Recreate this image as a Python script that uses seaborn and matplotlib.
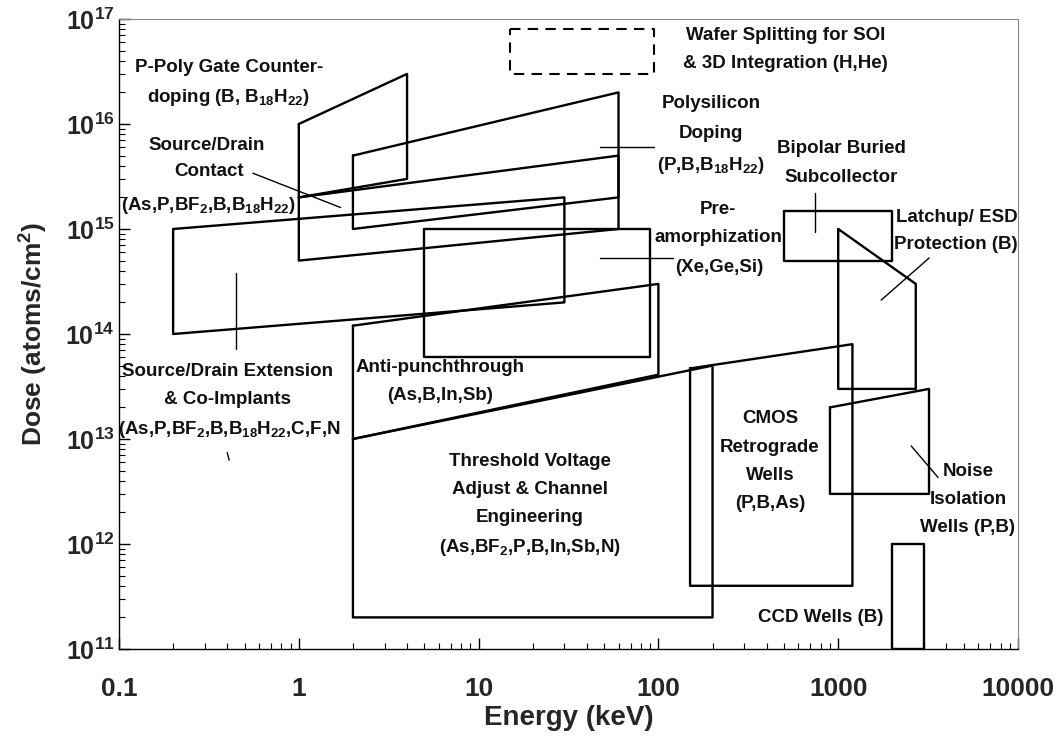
import numpy as np
import pandas as pd
import matplotlib
matplotlib.use("Agg")
import matplotlib.pyplot as plt
import seaborn as sns

# ---------------- data (energy keV, dose atoms/cm^2) ----------------
sd_ext_E = [0.2, 30, 30, 0.2]
sd_ext_D = [1e15, 2e15, 2e14, 1e14]
ppoly_E = [1, 4, 4, 1]
ppoly_D = [1e16, 3e16, 3e15, 2e15]
sd_contact_E = [1, 60, 60, 1]
sd_contact_D = [2e15, 5e15, 1e15, 5e14]
polysi_E = [2, 60, 60, 2]
polysi_D = [5e15, 2e16, 2e15, 1e15]
preamorph_E = [5, 90, 90, 5]
preamorph_D = [1e15, 1e15, 6e13, 6e13]
antipunch_E = [2, 100, 100, 2]
antipunch_D = [1.2e14, 3e14, 4.1e13, 1e13]
threshold_E = [2, 200, 200, 2]
threshold_D = [1e13, 5e13, 2e11, 2e11]
cmos_E = [150, 1200, 1200, 150]
cmos_D = [4.7e13, 8e13, 4e11, 4e11]
bipolar_E = [500, 2000, 2000, 500]
bipolar_D = [1.5e15, 1.5e15, 5e14, 5e14]
latchup_E = [1000, 2700, 2700, 1000]
latchup_D = [1e15, 3e14, 3e13, 3e13]
noise_E = [900, 3200, 3200, 900]
noise_D = [2e13, 3e13, 3e12, 3e12]
ccd_E = [2000, 3000, 3000, 2000]
ccd_D = [1e12, 1e12, 1e11, 1e11]
wafer_E = [15, 95, 95, 15]
wafer_D = [8e16, 8e16, 3e16, 3e16]

# leader lines: (E0, E1), (D0, D1)
leader_sdc_E = [0.555, 1.71];   leader_sdc_D = [3.4e15, 1.6e15]
leader_poly_E = [47.6, 94];     leader_poly_D = [6e15, 6e15]
leader_pre_E = [47.6, 120];     leader_pre_D = [5.3e14, 5.3e14]
leader_bip_E = [745, 745];      leader_bip_D = [2.2e15, 9.4e14]
leader_latch_E = [1733, 3205];  leader_latch_D = [2.1e14, 5.3e14]
leader_noise_E = [2545, 3594];  leader_noise_D = [8.6e12, 4.3e12]
leader_sdx_E = [0.447, 0.447];  leader_sdx_D = [3.8e14, 7.2e13]
leader_mark_E = [0.40, 0.41];   leader_mark_D = [7.4e12, 6.3e12]

x_ticks = [0.1, 1, 10, 100, 1000, 10000]
x_tick_labels = ["0.1", "1", "10", "100", "1000", "10000"]
y_ticks = [1e11, 1e12, 1e13, 1e14, 1e15, 1e16, 1e17]
y_tick_labels = [r"10$^{11}$", r"10$^{12}$", r"10$^{13}$", r"10$^{14}$",
                 r"10$^{15}$", r"10$^{16}$", r"10$^{17}$"]

# labels: text, pixel centre (x, y) in the 1058x751 figure
labels = [
    ("P-Poly Gate Counter-", 229, 68),
    (r"doping (B, B$_{18}$H$_{22}$)", 228, 98),
    ("Source/Drain", 207, 145),
    ("Contact", 209, 172),
    (r"(As,P,BF$_2$,B,B$_{18}$H$_{22}$)", 208, 205),
    ("Wafer Splitting for SOI", 786, 35),
    ("& 3D Integration (H,He)", 785, 63),
    ("Polysilicon", 711, 104),
    ("Doping", 711, 133),
    (r"(P,B,B$_{18}$H$_{22}$)", 711, 165),
    ("Bipolar Buried", 841, 148),
    ("Subcollector", 841, 177),
    ("Pre-", 718, 210),
    ("amorphization", 718, 238),
    ("(Xe,Ge,Si)", 719, 267),
    ("Latchup/ ESD", 957, 217),
    ("Protection (B)", 956, 245),
    ("Source/Drain Extension", 228, 371),
    ("& Co-Implants", 228, 399),
    (r"(As,P,BF$_2$,B,B$_{18}$H$_{22}$,C,F,N", 229, 430),
    ("Anti-punchthrough", 440, 367),
    ("(As,B,In,Sb)", 440, 395),
    ("Threshold Voltage", 530, 462),
    ("Adjust & Channel", 530, 489),
    ("Engineering", 530, 518),
    (r"(As,BF$_2$,P,B,In,Sb,N)", 530, 548),
    ("CMOS", 770, 418),
    ("Retrograde", 770, 447),
    ("Wells", 770, 475),
    ("(P,B,As)", 770, 504),
    ("Noise", 968, 472),
    ("Isolation", 968, 500),
    ("Wells (P,B)", 968, 528),
    ("CCD Wells (B)", 821, 618),
]

# ---------------- style ----------------
sns.set_theme(style="ticks")
plt.rcParams["font.family"] = ["Liberation Sans", "DejaVu Sans"]
plt.rcParams["font.weight"] = "bold"
plt.rcParams["mathtext.fontset"] = "custom"
plt.rcParams["mathtext.rm"] = "Liberation Sans:bold"
plt.rcParams["mathtext.it"] = "Liberation Sans:bold"
plt.rcParams["mathtext.bf"] = "Liberation Sans:bold"
plt.rcParams["mathtext.sf"] = "Liberation Sans:bold"
plt.rcParams["mathtext.default"] = "rm"

W, H = 1058, 751
L, R, T, B = 119, 1018, 19, 649
fig = plt.figure(figsize=(W / 100, H / 100), dpi=100)
ax = fig.add_axes([L / W, 1 - B / H, (R - L) / W, (B - T) / H])
ax.set_xscale("log")
ax.set_yscale("log")
ax.set_xlim(0.1, 10000)
ax.set_ylim(1e11, 1e17)

def poly(E, D, **kw):
    Ec = list(E) + [E[0]]
    Dc = list(D) + [D[0]]
    df = pd.DataFrame({"E": Ec, "D": Dc})
    sns.lineplot(data=df, x="E", y="D", sort=False, estimator=None, ax=ax,
                 color="black", **kw)

lw = 1.7
for E, D in [(sd_ext_E, sd_ext_D), (ppoly_E, ppoly_D), (sd_contact_E, sd_contact_D),
             (polysi_E, polysi_D), (preamorph_E, preamorph_D),
             (antipunch_E, antipunch_D), (threshold_E, threshold_D),
             (cmos_E, cmos_D), (bipolar_E, bipolar_D), (latchup_E, latchup_D),
             (noise_E, noise_D), (ccd_E, ccd_D)]:
    poly(E, D, linewidth=lw)
poly(wafer_E, wafer_D, linewidth=1.5, linestyle=(0, (5, 3.5)))

for E, D in [(leader_sdc_E, leader_sdc_D), (leader_poly_E, leader_poly_D),
             (leader_pre_E, leader_pre_D), (leader_bip_E, leader_bip_D),
             (leader_latch_E, leader_latch_D), (leader_noise_E, leader_noise_D),
             (leader_sdx_E, leader_sdx_D), (leader_mark_E, leader_mark_D)]:
    ax.plot(E, D, color="black", linewidth=1.0)

for txt, px, py in labels:
    ax.text((px - L) / (R - L), (B - py) / (B - T), txt, transform=ax.transAxes,
            ha="center", va="center", fontsize=13.5, fontweight="bold",
            color="#111111")

# axes, ticks
ax.set_xticks(x_ticks)
ax.set_xticklabels(x_tick_labels)
ax.set_yticks(y_ticks)
ax.set_yticklabels(y_tick_labels)
ax.xaxis.set_minor_locator(matplotlib.ticker.LogLocator(base=10, subs=np.arange(2, 10)))
ax.yaxis.set_minor_locator(matplotlib.ticker.LogLocator(base=10, subs=np.arange(2, 10)))
ax.xaxis.set_minor_formatter(matplotlib.ticker.NullFormatter())
ax.yaxis.set_minor_formatter(matplotlib.ticker.NullFormatter())
ax.tick_params(axis="both", which="major", direction="in", length=8, width=1.0,
               color="black")
ax.tick_params(axis="x", which="major", labelsize=19, pad=20)
ax.tick_params(axis="y", which="major", labelsize=18, pad=3)
ax.tick_params(axis="both", which="minor", direction="in", length=4, width=0.8,
               color="black")
for lab in ax.get_xticklabels() + ax.get_yticklabels():
    lab.set_fontweight("bold")

for s in ["left", "bottom"]:
    ax.spines[s].set_color("black")
    ax.spines[s].set_linewidth(1.0)
for s in ["top", "right"]:
    ax.spines[s].set_visible(True)
    ax.spines[s].set_color("#888888")
    ax.spines[s].set_linewidth(0.8)

ax.set_xlabel("Energy (keV)", fontsize=20, fontweight="bold")
ax.set_ylabel(r"Dose (atoms/cm$^2$)", fontsize=19, fontweight="bold")
ax.xaxis.set_label_coords(0.5, (B - 705) / (B - T))
ax.yaxis.set_label_coords((50 - L) / (R - L), 0.5)

fig.savefig("out.png", dpi=100, facecolor="white")
